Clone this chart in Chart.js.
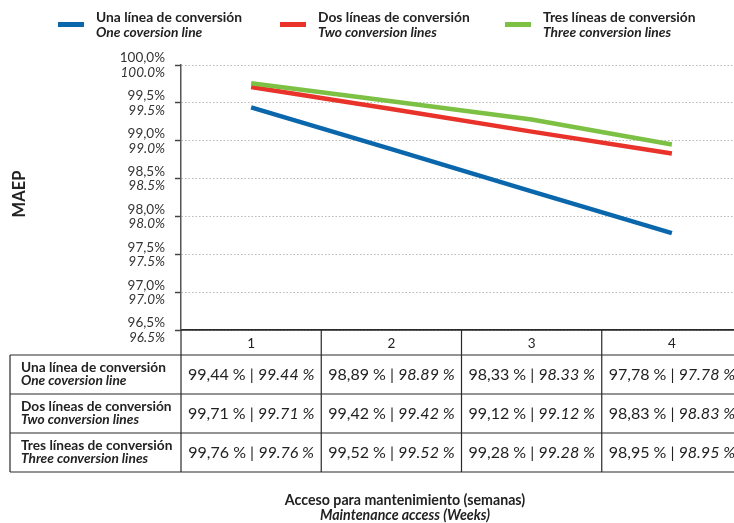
<!DOCTYPE html>
<html>
<head>
<meta charset="utf-8">
<script src="https://cdn.jsdelivr.net/npm/chart.js@4"></script>
<style>
  html, body { margin: 0; padding: 0; background: #fff; overflow: hidden; }
  #wrap { width: 734px; height: 523px; overflow: hidden; position: relative; }
  #box { width: 750px; height: 523px; position: absolute; left: 0; top: 0; }
</style>
</head>
<body>
<div id="wrap"><div id="box"><canvas id="c"></canvas></div></div>
<script>
// Weeks of maintenance access (x categories)
const weeks = ['1', '2', '3', '4'];

// Series names (Spanish / English)
const seriesEs = ['Una línea de conversión', 'Dos líneas de conversión', 'Tres líneas de conversión'];
const seriesEn = ['One coversion line', 'Two conversion lines', 'Three conversion lines'];

// MAEP values in percent
const oneLine    = [99.44, 98.89, 98.33, 97.78];
const twoLines   = [99.71, 99.42, 99.12, 98.83];
const threeLines = [99.76, 99.52, 99.28, 98.95];

// Y axis range and step
const yMin = 96.5;
const yMax = 100.0;
const yStep = 0.5;

// Titles
const yTitle = 'MAEP';
const xTitleEs = 'Acceso para mantenimiento (semanas)';
const xTitleEn = 'Maintenance access (Weeks)';

const seriesValues = [oneLine, twoLines, threeLines];
const seriesColors = ['#0a67ac', '#e8322a', '#7cc143'];

const FONT = 'Lato, "Open Sans", sans-serif';
const fmtEs = (v, d) => v.toFixed(d).replace('.', ',');
const fmtEn = (v, d) => v.toFixed(d);

// Draws the two-language y labels, legend, titles and data table
const decorations = {
  id: 'decorations',
  afterDraw(chart) {
    const ctx = chart.ctx;
    const xs = chart.scales.x;
    const ys = chart.scales.y;
    const area = chart.chartArea;
    ctx.save();

    // y tick labels: Spanish above, English italic below
    ctx.fillStyle = '#333';
    ctx.textAlign = 'right';
    ctx.textBaseline = 'middle';
    ys.ticks.forEach(t => {
      const y = ys.getPixelForValue(t.value);
      ctx.font = '13.5px ' + FONT;
      ctx.fillText(fmtEs(t.value, 1) + '%', 165, y - 7);
      ctx.font = 'italic 13.5px ' + FONT;
      ctx.fillText(fmtEn(t.value, 1) + '%', 165, y + 7.5);
    });

    // y title
    ctx.save();
    ctx.translate(20, 194);
    ctx.rotate(-Math.PI / 2);
    ctx.textAlign = 'center';
    ctx.textBaseline = 'middle';
    ctx.font = 'bold 16.5px ' + FONT;
    ctx.fillStyle = '#222';
    ctx.fillText(yTitle, 0, 0);
    ctx.restore();

    // legend
    const legendX = [58, 280, 505];
    seriesEs.forEach((name, i) => {
      const x0 = legendX[i];
      ctx.fillStyle = seriesColors[i];
      ctx.fillRect(x0, 22, 26, 5);
      ctx.fillStyle = '#222';
      ctx.textAlign = 'left';
      ctx.textBaseline = 'middle';
      ctx.font = 'bold 13.8px ' + FONT;
      ctx.fillText(name, x0 + 38, 18);
      ctx.font = 'italic bold 13.8px ' + FONT;
      ctx.fillText(seriesEn[i], x0 + 38, 32.5);
    });

    // data table
    const headTop = area.bottom;
    const rowTops = [355, 394, 433];
    const tableBottom = 472;
    const leftEdge = 10;
    const bounds = [area.left];
    for (let i = 0; i < weeks.length; i++) {
      const c = xs.getPixelForValue(i);
      const next = i < weeks.length - 1 ? xs.getPixelForValue(i + 1) : c + (c - xs.getPixelForValue(i - 1));
      bounds.push((c + next) / 2);
    }
    ctx.strokeStyle = '#2a2a2a';
    ctx.lineWidth = 1.2;
    ctx.beginPath();
    ctx.moveTo(area.left, headTop); ctx.lineTo(area.right, headTop);
    rowTops.concat([tableBottom]).forEach(y => { ctx.moveTo(leftEdge, y); ctx.lineTo(area.right, y); });
    ctx.moveTo(leftEdge, rowTops[0]); ctx.lineTo(leftEdge, tableBottom);
    bounds.forEach(x => { ctx.moveTo(x, headTop); ctx.lineTo(x, tableBottom); });
    ctx.stroke();

    seriesEs.forEach((name, r) => {
      const top = rowTops[r];
      ctx.fillStyle = '#222';
      ctx.textAlign = 'left';
      ctx.textBaseline = 'middle';
      ctx.font = 'bold 13.7px ' + FONT;
      ctx.fillText(name, 21, top + 13);
      ctx.font = 'italic bold 13.7px ' + FONT;
      ctx.fillText(seriesEn[r], 21, top + 26);

      seriesValues[r].forEach((v, i) => {
        const cx = xs.getPixelForValue(i);
        const partEs = fmtEs(v, 2) + ' % | ';
        const partEn = fmtEn(v, 2) + ' %';
        ctx.font = '16px ' + FONT;
        const wEs = ctx.measureText(partEs).width;
        ctx.font = 'italic 16px ' + FONT;
        const wEn = ctx.measureText(partEn).width;
        const start = cx - (wEs + wEn) / 2;
        ctx.textAlign = 'left';
        ctx.font = '16px ' + FONT;
        ctx.fillText(partEs, start, top + 19.5);
        ctx.font = 'italic 16px ' + FONT;
        ctx.fillText(partEn, start + wEs, top + 19.5);
      });
    });

    // x title
    ctx.textAlign = 'center';
    ctx.fillStyle = '#222';
    ctx.font = 'bold 14.2px ' + FONT;
    ctx.fillText(xTitleEs, 405, 500);
    ctx.font = 'italic bold 14.2px ' + FONT;
    ctx.fillText(xTitleEn, 405, 515);

    ctx.restore();
  }
};

const whiteBg = {
  id: 'whiteBg',
  beforeDraw(chart) {
    const ctx = chart.ctx;
    ctx.save();
    ctx.fillStyle = '#fff';
    ctx.fillRect(0, 0, chart.width, chart.height);
    ctx.restore();
  }
};

new Chart(document.getElementById('c'), {
  type: 'line',
  data: {
    labels: weeks,
    datasets: seriesValues.map((vals, i) => ({
      label: seriesEs[i],
      data: vals,
      borderColor: seriesColors[i],
      backgroundColor: seriesColors[i],
      borderWidth: 4.5,
      borderCapStyle: 'butt',
      pointRadius: 0,
      tension: 0,
      fill: false,
      order: 3 - i
    }))
  },
  options: {
    responsive: true,
    maintainAspectRatio: false,
    animation: false,
    layout: { padding: { top: 65, right: 8, left: 0, bottom: 0 } },
    plugins: {
      legend: { display: false },
      tooltip: { enabled: false },
      title: { display: false }
    },
    scales: {
      x: {
        type: 'category',
        offset: true,
        grid: { display: false, drawTicks: false },
        border: { display: true, color: '#2a2a2a', width: 1.5 },
        ticks: { color: '#222', padding: 6, font: { family: FONT, size: 13.5 }, maxRotation: 0 },
        afterFit(s) { s.height = 193; }
      },
      y: {
        min: yMin,
        max: yMax,
        ticks: { display: false, stepSize: yStep },
        grid: {
          color: '#b8b8b8',
          lineWidth: 1,
          drawTicks: true,
          tickLength: 6,
          tickColor: '#444',
          tickWidth: 1.5,
          tickBorderDash: []
        },
        border: { display: true, color: '#555', width: 1.5, dash: [1.5, 2] },
        afterFit(s) { s.width = 181; }
      }
    }
  },
  plugins: [whiteBg, decorations]
});
</script>
</body>
</html>
